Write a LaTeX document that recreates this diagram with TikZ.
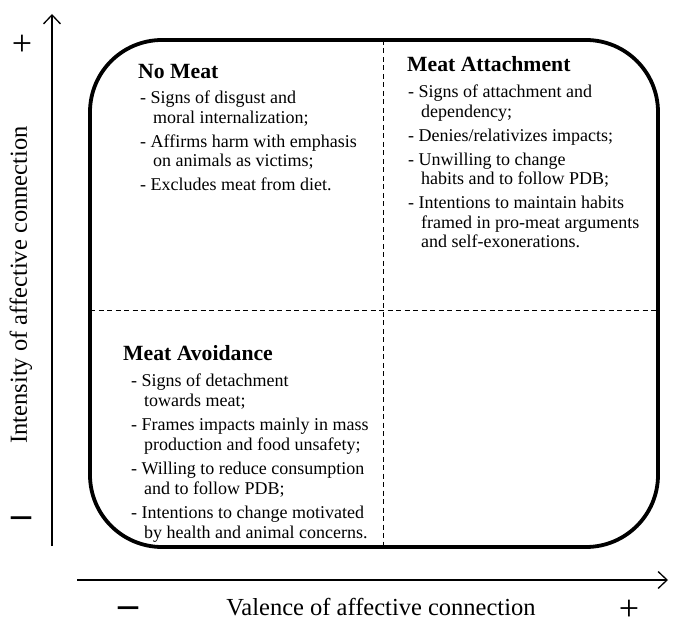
\documentclass[tikz,border=0pt]{standalone}
\usepackage{fontspec}
\setmainfont{Liberation Serif}
\usetikzlibrary{arrows.meta,positioning}
\newcommand{\itemcont}{\hspace*{0.72em}}
\tikzset{
  quadbox/.style={
    draw,
    line width=3.8pt,
    rounded corners=72pt
  },
  divider/.style={
    line width=0.9pt,
    dash pattern=on 5pt off 3.5pt
  },
  axis/.style={-{Straight Barb[length=9pt,width=17pt]},line width=1.3pt},
  heading/.style={
    anchor=base west,
    inner sep=0pt,
    font=\fontsize{21.7}{24}\selectfont\bfseries
  },
  itemlist/.style={
    align=left,
    inner sep=0pt,
    font=\fontsize{18}{19.5}\selectfont
  },
  axislabel/.style={inner sep=0pt,font=\fontsize{24.5}{27}\selectfont},
  plussign/.style={inner sep=0pt,font=\fontsize{36}{36}\selectfont},
  minussign/.style={inner sep=0pt,font=\fontsize{40}{40}\selectfont\bfseries}
}

\begin{document}
\begin{tikzpicture}[x=1pt,y=-1pt]
\useasboundingbox (0,0) rectangle (691,628);

% frame and quadrants
\coordinate (tl) at (90,40);
\coordinate (br) at (658,547);
\coordinate (midtop) at (383,40);
\coordinate (midbot) at (383,547);
\coordinate (midleft) at (90,310);
\coordinate (midright) at (658,310);

\draw[quadbox] (tl) rectangle (br);
\draw[divider] (midtop) -- (midbot);
\draw[divider] (midleft) -- (midright);

% axes
\coordinate (yfoot) at (52,546);
\coordinate (ytip) at (52,14);
\coordinate (xfoot) at (77,580);
\coordinate (xtip) at (668,580);
\draw[axis] (yfoot) -- (ytip);
\draw[axis] (xfoot) -- (xtip);

\node[plussign] (yplus) at (22,45) {+};
\node[minussign] (yminus) at (21,522) {–};
\node[minussign] (xminus) at (128,612) {–};
\node[plussign] (xplus) at (629,610) {+};

\node[axislabel,rotate=90] (ylabel) at (21,285) {Intensity of affective connection};
\node[axislabel] (xlabel) at (381,607) {Valence of affective connection};

% No Meat
\node[heading] (nomeat) at (138,79) {No Meat};
\node[itemlist,below right=12pt and 2pt of nomeat.base west] (nomeatlist) {
  - Signs of disgust and\\
  \itemcont moral internalization;\\[4.5pt]
  - Affirms harm with emphasis\\
  \itemcont on animals as victims;\\[4.5pt]
  - Excludes meat from diet.
};

% Meat Attachment
\node[heading] (attach) at (407,72) {Meat Attachment};
\node[itemlist,below right=13pt and 1pt of attach.base west] (attachlist) {
  - Signs of attachment and\\
  \itemcont dependency;\\[4.5pt]
  - Denies/relativizes impacts;\\[4.5pt]
  - Unwilling to change\\
  \itemcont habits and to follow PDB;\\[4.5pt]
  - Intentions to maintain habits\\
  \itemcont framed in pro-meat arguments\\
  \itemcont and self-exonerations.
};

% Meat Avoidance
\node[heading] (avoid) at (123,361) {Meat Avoidance};
\node[itemlist,below right=13pt and 8pt of avoid.base west] (avoidlist) {
  - Signs of detachment\\
  \itemcont towards meat;\\[5pt]
  - Frames impacts mainly in mass\\
  \itemcont production and food unsafety;\\[5pt]
  - Willing to reduce consumption\\
  \itemcont and to follow PDB;\\[5pt]
  - Intentions to change motivated\\
  \itemcont by health and animal concerns.
};

\end{tikzpicture}
\end{document}
